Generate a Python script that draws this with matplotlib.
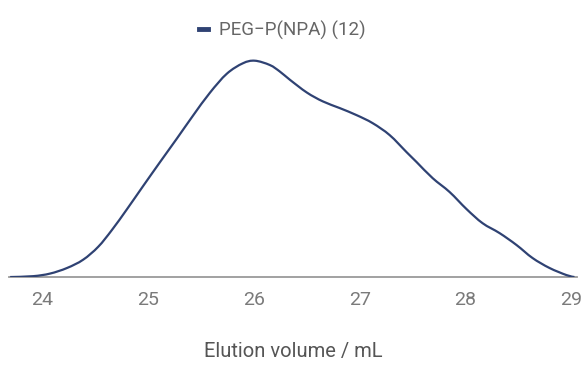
import matplotlib
matplotlib.use("Agg")
import matplotlib.pyplot as plt
from matplotlib.lines import Line2D
from matplotlib.path import Path
from matplotlib.patches import PathPatch

plt.rcParams['font.family'] = ['Roboto', 'DejaVu Sans']

# elution volume (mL) and normalised detector signal
volume = [23.698, 23.915, 24.075, 24.236, 24.387, 24.530, 24.660, 24.802, 24.953,
          25.113, 25.274, 25.425, 25.585, 25.745, 25.896, 26.009, 26.151, 26.245,
          26.340, 26.500, 26.651, 26.811, 26.972, 27.123, 27.283, 27.443, 27.538,
          27.689, 27.849, 28.009, 28.160, 28.321, 28.481, 28.632, 28.792, 28.953,
          29.028]
signal = [0.0, 0.004, 0.016, 0.042, 0.080, 0.140, 0.218, 0.314, 0.420,
          0.531, 0.641, 0.746, 0.852, 0.940, 0.988, 1.0, 0.980, 0.950,
          0.912, 0.853, 0.812, 0.781, 0.748, 0.711, 0.656, 0.577, 0.531,
          0.457, 0.393, 0.314, 0.249, 0.203, 0.148, 0.088, 0.042, 0.009,
          0.0]
series_name = "PEG\u2212P(NPA) (12)"
xticks = [24, 25, 26, 27, 28, 29]

line_color = "#2f4273"


def smooth_path(xs, ys):
    # catmull-rom style bezier through the points (like a "smooth" line option)
    pts = list(zip(xs, ys))
    verts = [pts[0]]
    codes = [Path.MOVETO]
    n = len(pts)
    for i in range(n - 1):
        p0 = pts[max(i - 1, 0)]
        p1 = pts[i]
        p2 = pts[i + 1]
        p3 = pts[min(i + 2, n - 1)]
        c1 = (p1[0] + (p2[0] - p0[0]) / 6, p1[1] + (p2[1] - p0[1]) / 6)
        c2 = (p2[0] - (p3[0] - p1[0]) / 6, p2[1] - (p3[1] - p1[1]) / 6)
        verts += [c1, c2, p2]
        codes += [Path.CURVE4] * 3
    return Path(verts, codes)


fig = plt.figure(figsize=(5.82, 3.65), dpi=100)
ax = fig.add_axes([0.016, 0.241, 0.975, 0.649])

ax.add_patch(PathPatch(smooth_path(volume, signal), fill=False,
                       edgecolor=line_color, lw=1.6, zorder=3))

ax.set_xlim(23.69, 29.05)
ax.set_ylim(0, 1.095)
ax.set_xticks(xticks)
ax.set_xticklabels([str(t) for t in xticks])
ax.set_yticks([])

for s in ["top", "right", "left"]:
    ax.spines[s].set_visible(False)
ax.spines["bottom"].set_color("#9a9a9a")
ax.spines["bottom"].set_linewidth(1.3)

ax.tick_params(axis="x", length=0, pad=10, labelsize=14, labelcolor="#7a7a7a")
ax.set_xlabel("Elution volume / mL", fontsize=14.5, color="#555555", labelpad=24)

handle = Line2D([], [], color=line_color, lw=3.5)
fig.legend([handle], [series_name], loc="center", bbox_to_anchor=(0.485, 0.918),
           frameon=False, fontsize=13.5, labelcolor="#666666",
           handlelength=0.45, handletextpad=0.6)

fig.savefig("out.png", dpi=100)
